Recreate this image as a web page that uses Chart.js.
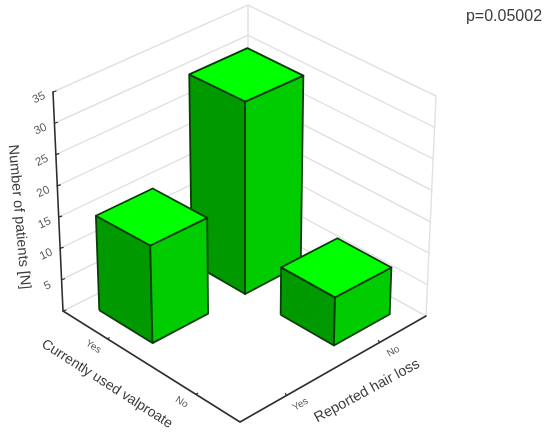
<!DOCTYPE html>
<html>
<head>
<meta charset="utf-8">
<style>
html, body { margin: 0; padding: 0; background: #fff; }
canvas { display: block; }
</style>
<script src="https://cdn.jsdelivr.net/npm/chart.js@4/dist/chart.umd.min.js"></script>
</head>
<body>
<canvas id="myChart" width="550" height="441"></canvas>
<script>
// values
const valproateLabels = ['Yes', 'No']
const hairLossLabels = ['Yes', 'No']
const countsHairLossYes = [15, 0]   // valproate yes, no
const countsHairLossNo = [30.5, 7.4]
const countTicks = [0, 5, 10, 15, 20, 25, 30, 35]
const countMax = 35

// box corners on the page: a runs left to front, b runs front to right
const floorBox = { L: [63, 311], F: [240, 422], R: [426, 316], B: [248, 218] }
const roofBox = { L: [53, 92], F: [240, 177], R: [436, 96], B: [248, 5] }
const barInset = 0.1
const barShift = 0.012

const gridColor = '#e2e2e2'
const axisColor = '#2e2e2e'
const edgeColor = '#0b3b0b'
const textColor = '#3c3c3c'

function bilinear(box, a, b, i) {
    return box.L[i] * (1 - a) * (1 - b) + box.F[i] * a * (1 - b) + box.R[i] * a * b + box.B[i] * (1 - a) * b
}
function project(a, b, count) {
    const t = count / countMax
    return {
        x: bilinear(floorBox, a, b, 0) * (1 - t) + bilinear(roofBox, a, b, 0) * t,
        y: bilinear(floorBox, a, b, 1) * (1 - t) + bilinear(roofBox, a, b, 1) * t
    }
}

// later entries are painted over earlier ones, list gets reversed for chart.js
const layers = []
function addLine(points, color, width) {
    layers.push({ data: points, showLine: true, borderColor: color, borderWidth: width, pointRadius: 0, fill: false, borderCapStyle: 'round' })
}
function addFace(points, color) {
    layers.push({
        data: points.concat([points[0]]), showLine: true, borderColor: edgeColor, borderWidth: 1.8,
        backgroundColor: color, pointRadius: 0, fill: 'shape', borderJoinStyle: 'round'
    })
}
function addBar(i, j, count) {
    if (count === 0) return
    const a0 = i / 2 + barInset - barShift, a1 = (i + 1) / 2 - barInset - barShift
    const b0 = j / 2 + barInset + barShift, b1 = (j + 1) / 2 - barInset + barShift
    addFace([project(a0, b0, 0), project(a1, b0, 0), project(a1, b0, count), project(a0, b0, count)], '#009900')
    addFace([project(a1, b0, 0), project(a1, b1, 0), project(a1, b1, count), project(a1, b0, count)], '#00cc00')
    addFace([project(a0, b0, count), project(a1, b0, count), project(a1, b1, count), project(a0, b1, count)], '#00ff00')
}

// walls
countTicks.forEach(function (c) {
    addLine([project(0, 0, c), project(0, 1, c), project(1, 1, c)], gridColor, 1.5)
})
addLine([project(0, 1, 0), project(0, 1, countMax)], gridColor, 1.5)
addLine([project(1, 1, 0), project(1, 1, countMax)], gridColor, 1.5)

// axes
addLine([project(0, 0, countMax), project(0, 0, 0), project(1, 0, 0), project(1, 1, 0)], axisColor, 1.6)
countTicks.forEach(function (c) {
    const p = project(0, 0, c)
    addLine([p, { x: p.x + 3, y: p.y - 1 }], axisColor, 1.2)
})
valproateLabels.forEach(function (l, i) {
    const p = project((i + 0.5) / 2, 0, 0)
    addLine([p, { x: p.x + 2, y: p.y - 1 }], axisColor, 1.2)
})
hairLossLabels.forEach(function (l, j) {
    const p = project(1, (j + 0.5) / 2, 0)
    addLine([p, { x: p.x - 1, y: p.y - 2 }], axisColor, 1.2)
})

// bars back to front
addBar(0, 1, countsHairLossNo[0])
addBar(1, 1, countsHairLossNo[1])
addBar(0, 0, countsHairLossYes[0])
addBar(1, 0, countsHairLossYes[1])

function drawText(ctx, text, x, y, angle, font, color) {
    ctx.save()
    ctx.translate(x, y)
    ctx.rotate(angle * Math.PI / 180)
    ctx.font = font
    ctx.fillStyle = color
    ctx.textAlign = 'center'
    ctx.textBaseline = 'middle'
    ctx.fillText(text, 0, 0)
    ctx.restore()
}

const labelsPlugin = {
    id: 'labels3d',
    afterDraw: function (chart) {
        const ctx = chart.ctx
        const sx = chart.scales.x, sy = chart.scales.y
        countTicks.slice(1).forEach(function (c) {
            const p = project(0, 0, c)
            drawText(ctx, String(c), sx.getPixelForValue(p.x) - 14, sy.getPixelForValue(p.y) + 6, -25, '11.5px "Liberation Sans"', '#5a5a5a')
        })
        valproateLabels.forEach(function (l, i) {
            const p = project((i + 0.5) / 2, 0, 0)
            drawText(ctx, l, sx.getPixelForValue(p.x) - 14, sy.getPixelForValue(p.y) + 8, 32, '10px "Liberation Sans"', '#5a5a5a')
        })
        hairLossLabels.forEach(function (l, j) {
            const p = project(1, (j + 0.5) / 2, 0)
            drawText(ctx, l, sx.getPixelForValue(p.x) + 14, sy.getPixelForValue(p.y) + 9, -30, '10px "Liberation Sans"', '#5a5a5a')
        })
        drawText(ctx, 'Number of patients [N]', 19, 217, 85, '14.5px "Liberation Sans"', textColor)
        drawText(ctx, 'Currently used valproate', 107, 384, 32.6, '14px "Liberation Sans"', textColor)
        drawText(ctx, 'Reported hair loss', 367, 391, -28.5, '14.5px "Liberation Sans"', textColor)
        drawText(ctx, 'p=0.05002', 504, 17, 0, '16px "Liberation Sans"', textColor)
    }
}

new Chart(document.getElementById('myChart'), {
    type: 'scatter',
    data: { datasets: layers.reverse() },
    options: {
        responsive: false,
        animation: false,
        layout: { padding: 0 },
        plugins: { legend: { display: false }, tooltip: { enabled: false } },
        scales: {
            x: { type: 'linear', display: false, min: 0, max: 550 },
            y: { type: 'linear', display: false, min: 0, max: 441, reverse: true }
        }
    },
    plugins: [labelsPlugin]
})
</script>
</body>
</html>
